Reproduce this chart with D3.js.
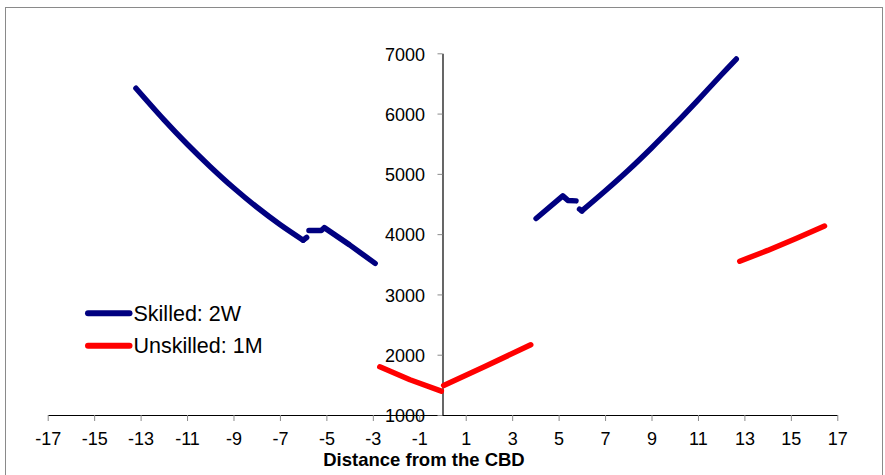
<!DOCTYPE html>
<html>
<head>
<meta charset="utf-8">
<script src="https://cdn.jsdelivr.net/npm/d3@7"></script>
<style>
  body { margin: 0; background: #fff; }
  svg { display: block; font-family: Arial, "Liberation Sans", sans-serif; }
</style>
</head>
<body>
<div id="chart"></div>
<script>
// axis ticks
var X_TICKS = [-17, -15, -13, -11, -9, -7, -5, -3, -1, 1, 3, 5, 7, 9, 11, 13, 15, 17];
var Y_TICKS = [1000, 2000, 3000, 4000, 5000, 6000, 7000];
var X_TITLE = 'Distance from the CBD';

// Skilled: 2W  [distance, value]
var skilledLeftFar = [[-13.2, 6420], [-12, 5900], [-11, 5495], [-10, 5120], [-9, 4770],
  [-8, 4450], [-7, 4160], [-6.0, 3900]];
var skilledLeftHook = [[-6.0, 3900], [-5.85, 3945]];
var skilledLeftNear = [[-5.75, 4060], [-5.22, 4060], [-5.09, 4108], [-4, 3822], [-2.9, 3515]];
var skilledRightNear = [[4.03, 4260], [5.18, 4635], [5.4, 4560], [5.75, 4552]];
var skilledRightHook = [[5.9, 4415], [6.0, 4385]];
var skilledRightFar = [[6.0, 4385], [7, 4715], [8, 5060], [9, 5430],
  [10, 5820], [11, 6225], [12, 6640], [12.65, 6905]];

// Unskilled: 1M
var unskilledLeft = [[-2.7, 1800], [-1.4, 1585], [-0.05, 1395]];
var unskilledRight = [[0.05, 1490], [1.8, 1800], [3.8, 2165]];
var unskilledFar = [[12.8, 3550], [14, 3730], [15.2, 3925], [16.45, 4135]];

var SERIES = [
  { name: 'Skilled: 2W', color: '#000080',
    segments: [skilledLeftFar, skilledLeftHook, skilledLeftNear,
      skilledRightNear, skilledRightHook, skilledRightFar] },
  { name: 'Unskilled: 1M', color: '#ff0000',
    segments: [unskilledLeft, unskilledRight, unskilledFar] }
];

var W = 885, H = 475;

var svg = d3.select('#chart').append('svg')
  .attr('width', W).attr('height', H);

// outer frame
svg.append('rect')
  .attr('x', 5.5).attr('y', 7.5)
  .attr('width', 877).attr('height', 490)
  .attr('fill', 'none').attr('stroke', '#8a8a8a').attr('stroke-width', 1);

var x = d3.scaleLinear().domain([-17, 17]).range([47.7, 837.3]);
var y = d3.scaleLinear().domain([1000, 7000]).range([415, 53.3]);

// x axis along y = 1000
var gx = svg.append('g')
  .attr('transform', 'translate(0,' + y(1000) + ')')
  .call(d3.axisBottom(x).tickValues(X_TICKS).tickSize(6).tickSizeOuter(0)
    .tickFormat(d3.format('d')));
gx.select('.domain').attr('stroke', '#000').attr('stroke-width', 1.2);
gx.selectAll('.tick line').attr('stroke', '#8a8a8a');
gx.selectAll('.tick text')
  .attr('y', 30).attr('dy', 0)
  .attr('font-size', 18).attr('fill', '#000')
  .text(function(d) { return d < 0 ? '-' + Math.abs(d) : d; });

// y axis along x = 0
var gy = svg.append('g')
  .attr('transform', 'translate(' + x(0) + ',0)')
  .call(d3.axisLeft(y).tickValues(Y_TICKS).tickSize(5).tickSizeOuter(0)
    .tickFormat(d3.format('d')));
gy.select('.domain').attr('stroke', '#000').attr('stroke-width', 1.2);
gy.selectAll('.tick line').attr('stroke', '#8a8a8a');
gy.selectAll('.tick text')
  .attr('x', -17.5).attr('dy', '0.38em')
  .attr('font-size', 18).attr('fill', '#000');

// axis title
svg.append('text')
  .attr('x', 424).attr('y', 466)
  .attr('text-anchor', 'middle')
  .attr('font-size', 18.5).attr('font-weight', 'bold')
  .text(X_TITLE);

// lines
var line = d3.line()
  .x(function(d) { return x(d[0]); })
  .y(function(d) { return y(d[1]); });

SERIES.forEach(function(s) {
  svg.append('g').selectAll('path')
    .data(s.segments)
    .enter().append('path')
      .attr('d', function(seg) {
        return line.curve(seg.length > 5 ? d3.curveCatmullRom.alpha(0.5) : d3.curveLinear)(seg);
      })
      .attr('fill', 'none')
      .attr('stroke', s.color)
      .attr('stroke-width', 5.5)
      .attr('stroke-linecap', 'round')
      .attr('stroke-linejoin', 'round');
});

// legend
var legend = svg.append('g');
SERIES.forEach(function(s, i) {
  var ly = 313.3 + i * 32.4;
  legend.append('line')
    .attr('x1', 88).attr('x2', 129.5)
    .attr('y1', ly).attr('y2', ly)
    .attr('stroke', s.color).attr('stroke-width', 6)
    .attr('stroke-linecap', 'round');
  legend.append('text')
    .attr('x', 133.5).attr('y', ly + 7.5)
    .attr('font-size', 21.5).attr('fill', '#000')
    .text(s.name);
});
</script>
</body>
</html>
